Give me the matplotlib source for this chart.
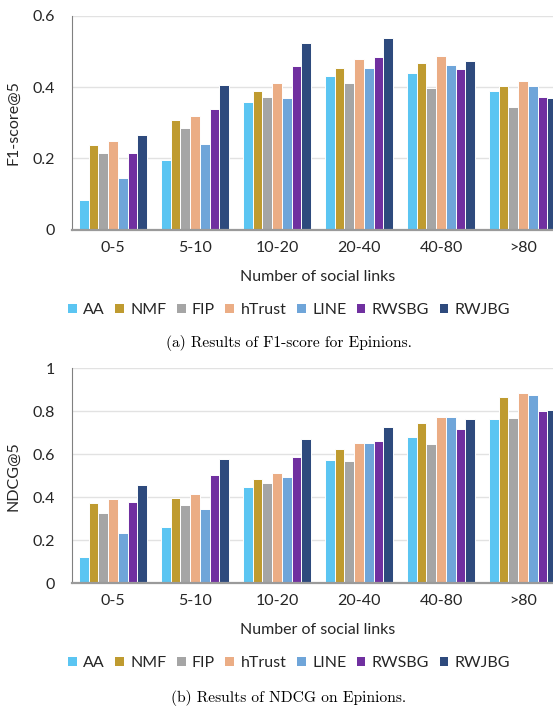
import numpy as np
import matplotlib
matplotlib.use('Agg')
import matplotlib.pyplot as plt
from matplotlib.patches import Patch

plt.rcParams['font.family'] = ['Lato', 'DejaVu Sans']

# datos
groups = ['0-5', '5-10', '10-20', '20-40', '40-80', '>80']
methods = ['AA', 'NMF', 'FIP', 'hTrust', 'LINE', 'RWSBG', 'RWJBG']
colors = ['#5BC5F2', '#BF9B30', '#A5A5A5', '#EBAD85', '#6FA5D9', '#7030A0', '#2E4A7D']

f1 = {
    'AA':     [0.082, 0.195, 0.357, 0.432, 0.438, 0.389],
    'NMF':    [0.237, 0.307, 0.390, 0.454, 0.466, 0.404],
    'FIP':    [0.215, 0.286, 0.372, 0.412, 0.397, 0.345],
    'hTrust': [0.250, 0.319, 0.411, 0.479, 0.486, 0.418],
    'LINE':   [0.146, 0.240, 0.369, 0.452, 0.462, 0.403],
    'RWSBG':  [0.216, 0.339, 0.459, 0.483, 0.450, 0.372],
    'RWJBG':  [0.265, 0.406, 0.524, 0.537, 0.474, 0.370],
}
ndcg = {
    'AA':     [0.121, 0.260, 0.450, 0.574, 0.682, 0.766],
    'NMF':    [0.374, 0.395, 0.484, 0.623, 0.747, 0.865],
    'FIP':    [0.327, 0.366, 0.465, 0.567, 0.650, 0.771],
    'hTrust': [0.394, 0.416, 0.513, 0.651, 0.775, 0.887],
    'LINE':   [0.236, 0.346, 0.496, 0.654, 0.774, 0.878],
    'RWSBG':  [0.380, 0.504, 0.589, 0.660, 0.716, 0.803],
    'RWJBG':  [0.457, 0.580, 0.670, 0.727, 0.766, 0.806],
}

W, H = 553, 712
fig = plt.figure(figsize=(W/100, H/100), dpi=100)
txt = '#262626'


def panel(rect, data, ymax, yticks, ylabel, caption, leg_y, cap_y, xlab_y):
    ax = fig.add_axes(rect)
    x = np.arange(len(groups))
    w = 0.118
    for i, m in enumerate(methods):
        ax.bar(x + (i - 3) * w, data[m], w, color=colors[i],
               edgecolor='white', linewidth=0.7, zorder=3)
    ax.set_xlim(-0.5, len(groups) - 0.5)
    ax.set_ylim(0, ymax)
    ax.set_yticks(yticks)
    ax.set_yticklabels([('%g' % t) for t in yticks])
    ax.set_xticks(x)
    ax.set_xticklabels(groups)
    ax.tick_params(axis='both', length=0, labelsize=11.5, colors=txt)
    ax.tick_params(axis='y', pad=12)
    ax.tick_params(axis='x', pad=8)
    ax.grid(axis='y', color='#E2E2E2', linewidth=1, zorder=0)
    for s in ['top', 'right']:
        ax.spines[s].set_visible(False)
    ax.spines['left'].set_color('#808080')
    ax.spines['bottom'].set_color('#9A9A9A')
    ax.spines['bottom'].set_linewidth(1.6)
    ax.spines['bottom'].set_zorder(5)
    ax.spines['left'].set_zorder(5)
    ax.set_ylabel(ylabel, fontsize=11.5, color=txt)
    ax.yaxis.set_label_coords(20/W, rect[1] + rect[3]/2, transform=fig.transFigure)
    fig.text(318/W, 1 - xlab_y/H, 'Number of social links', ha='center', va='center',
             fontsize=11.5, color=txt)
    handles = [Patch(facecolor=c, edgecolor='none') for c in colors]
    fig.legend(handles, methods, loc='center', bbox_to_anchor=(289/W, 1 - leg_y/H),
               ncol=7, frameon=False, fontsize=11.5, handlelength=0.55, handleheight=0.55,
               handletextpad=0.4, columnspacing=0.65, borderaxespad=0, borderpad=0,
               labelcolor=txt)
    fig.text(289/W, 1 - cap_y/H, caption, ha='center', va='center',
             fontsize=11.2, family='cmr10')
    return ax


# panel (a)
panel([72/W, 1 - 229.7/H, 492/W, 214/H], f1, 0.6, [0, 0.2, 0.4, 0.6], 'F1-score@5',
      '(a) Results of F1-score for Epinions.', 310, 343, 277)
# panel (b)
panel([72/W, 1 - 583.3/H, 492/W, 215/H], ndcg, 1.0, [0, 0.2, 0.4, 0.6, 0.8, 1], 'NDCG@5',
      '(b) Results of NDCG on Epinions.', 663, 698, 630)

fig.savefig('out.png', dpi=100)
